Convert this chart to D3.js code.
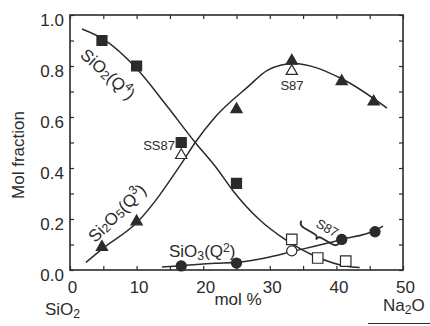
<!DOCTYPE html>
<html>
<head>
<meta charset="utf-8">
<script src="https://cdn.jsdelivr.net/npm/d3@7"></script>
<style>
  body { margin: 0; background: #fff; }
  svg { display: block; font-family: "Liberation Sans", Arial, sans-serif; }
  text { fill: #2b2b2b; }
</style>
</head>
<body>
<svg id="chart" width="430" height="326"></svg>
<script>
// measured points [mol % Na2O, mol fraction]
const q4Filled = [[4.8, 0.90], [10, 0.80], [16.7, 0.50], [25, 0.34]]
const q4Open = [[33.3, 0.12], [37.2, 0.047], [41.4, 0.035]]
const q3Filled = [[4.8, 0.09], [10, 0.19], [25, 0.63], [33.3, 0.82], [40.8, 0.74], [45.6, 0.66]]
const q3Open = [[16.7, 0.45], [33.3, 0.78]]
const q2Filled = [[16.7, 0.016], [25, 0.027], [40.8, 0.12], [45.8, 0.15]]
const q2Open = [[33.3, 0.075]]

// fitted curves
const q4Curve = [[1.8, 0.945], [5, 0.905], [10, 0.79], [14.5, 0.645], [18.8, 0.5], [22, 0.4],
  [24.5, 0.31], [28.5, 0.196], [32, 0.125], [37, 0.052], [41.5, 0.015], [43.5, 0.01]]
const q3Curve = [[2.4, 0.03], [4.8, 0.082], [10, 0.185], [16.8, 0.42], [18.8, 0.5], [21.8, 0.6],
  [26.7, 0.718], [29.7, 0.784], [33.5, 0.81], [40.8, 0.75], [47.6, 0.635]]
const q2Curve = [[13.8, 0.012], [16.7, 0.017], [21.8, 0.026], [25, 0.03], [29.3, 0.047],
  [33.3, 0.072], [40.8, 0.12], [45.8, 0.155], [47, 0.172]]

const xMajor = [0, 10, 20, 30, 40, 50]
const yMajor = [0, 0.2, 0.4, 0.6, 0.8, 1.0]

const ink = '#2b2b2b'
const svg = d3.select('#chart')

const x = d3.scaleLinear().domain([0, 50]).range([70, 403])
const y = d3.scaleLinear().domain([0, 1]).range([270, 15])

// inward ticks on all four sides
const minorX = d3.range(0, 51, 5)
const minorY = d3.range(0, 1.01, 0.1)

svg.append('g').attr('transform', `translate(0,${y(0)})`)
  .call(d3.axisBottom(x).tickValues(minorX).tickSize(-4).tickFormat(''))
svg.append('g').attr('transform', `translate(0,${y(1)})`)
  .call(d3.axisTop(x).tickValues(minorX).tickSize(-4).tickFormat(''))
svg.append('g').attr('transform', `translate(${x(0)},0)`)
  .call(d3.axisLeft(y).tickValues(minorY).tickSize(-4).tickFormat(''))
svg.append('g').attr('transform', `translate(${x(50)},0)`)
  .call(d3.axisRight(y).tickValues(minorY).tickSize(-4).tickFormat(''))
svg.selectAll('.domain').remove()
svg.selectAll('.tick line').attr('stroke', ink).attr('stroke-width', 1.2)

svg.append('rect')
  .attr('x', x(0)).attr('y', y(1))
  .attr('width', x(50) - x(0)).attr('height', y(0) - y(1))
  .attr('fill', 'none').attr('stroke', ink).attr('stroke-width', 1.6)

// tick labels
const xl = svg.append('g').attr('transform', `translate(0,${y(0)})`)
  .call(d3.axisBottom(x).tickValues(xMajor).tickSize(0).tickPadding(11).tickFormat(d3.format('d')))
const yl = svg.append('g').attr('transform', `translate(${x(0)},0)`)
  .call(d3.axisLeft(y).tickValues(yMajor).tickSize(0).tickPadding(6).tickFormat(d3.format('.1f')))
xl.select('.domain').remove()
yl.select('.domain').remove()
svg.selectAll('.tick text').attr('font-size', 17).attr('fill', ink)
  .attr('font-family', '"Liberation Sans", Arial, sans-serif')
xl.selectAll('.tick text').attr('dx', 2)
yl.selectAll('.tick text').attr('y', 5)

// axis titles
svg.append('text')
  .attr('transform', 'translate(24,155) rotate(-90)')
  .attr('text-anchor', 'middle').attr('font-size', 17).text('Mol fraction')

svg.append('text').attr('x', 238).attr('y', 305)
  .attr('text-anchor', 'middle').attr('font-size', 17).text('mol %')

function chem(sel, parts) {
  parts.forEach(p => {
    const t = sel.append('tspan').text(p[0])
    if (p[1] === 'sub') t.attr('font-size', '0.72em').attr('baseline-shift', '-28%')
    if (p[1] === 'sup') t.attr('font-size', '0.72em').attr('baseline-shift', '45%')
  })
  return sel
}

chem(svg.append('text').attr('x', 45).attr('y', 315).attr('font-size', 17),
  [['SiO'], ['2', 'sub']])
chem(svg.append('text').attr('x', 383).attr('y', 311).attr('font-size', 17),
  [['Na'], ['2', 'sub'], ['O']])

// stray scan rule under Na2O
svg.append('line').attr('x1', 368).attr('x2', 430).attr('y1', 323.5).attr('y2', 323.5)
  .attr('stroke', ink).attr('stroke-width', 1)

// curves
const line = d3.line().x(d => x(d[0])).y(d => y(d[1])).curve(d3.curveMonotoneX)
;[q4Curve, q3Curve, q2Curve].forEach(c => {
  svg.append('path').datum(c).attr('d', line)
    .attr('fill', 'none').attr('stroke', ink).attr('stroke-width', 1.5)
})

// markers
function marks(data, type, size, filled) {
  svg.append('g').selectAll('path').data(data).join('path')
    .attr('transform', d => `translate(${x(d[0])},${y(d[1])})`)
    .attr('d', d3.symbol(type, size))
    .attr('fill', filled ? ink : '#fff')
    .attr('stroke', ink).attr('stroke-width', 1.2)
}
marks(q4Filled, d3.symbolSquare, 100, true)
marks(q4Open, d3.symbolSquare, 110, false)
marks(q3Filled, d3.symbolTriangle, 55, true)
marks(q3Open, d3.symbolTriangle, 55, false)
marks(q2Filled, d3.symbolCircle, 80, true)
marks(q2Open, d3.symbolCircle, 80, false)

// curve labels
chem(svg.append('text').attr('font-size', 17)
  .attr('text-anchor', 'middle').attr('dominant-baseline', 'central')
  .attr('transform', 'translate(108,74) rotate(42)'),
  [['SiO'], ['2', 'sub'], ['(Q'], ['4', 'sup'], [')']])
chem(svg.append('text').attr('font-size', 17)
  .attr('text-anchor', 'middle').attr('dominant-baseline', 'central')
  .attr('transform', 'translate(117,213) rotate(-45)'),
  [['Si'], ['2', 'sub'], ['O'], ['5', 'sub'], ['(Q'], ['3', 'sup'], [')']])
chem(svg.append('text').attr('font-size', 17).attr('x', 169).attr('y', 257),
  [['SiO'], ['3', 'sub'], ['(Q'], ['2', 'sup'], [')']])

svg.append('text').attr('x', 175).attr('y', 150).attr('text-anchor', 'end')
  .attr('font-size', 13).text('SS87')
svg.append('text').attr('x', 292).attr('y', 90).attr('text-anchor', 'middle')
  .attr('font-size', 13).text('S87')

// rotated S87 with brace
const g87 = svg.append('g').attr('transform', 'translate(318,236) rotate(30)')
g87.append('text').attr('x', 4).attr('y', -7).attr('text-anchor', 'middle')
  .attr('font-size', 13).text('S87')
g87.append('path')
  .attr('d', 'M-22,-5 Q-22,0 -16,0 L-4,0 Q0,0 0,4 Q0,0 4,0 L16,0 Q22,0 22,-5')
  .attr('fill', 'none').attr('stroke', ink).attr('stroke-width', 1.8)
</script>
</body>
</html>
